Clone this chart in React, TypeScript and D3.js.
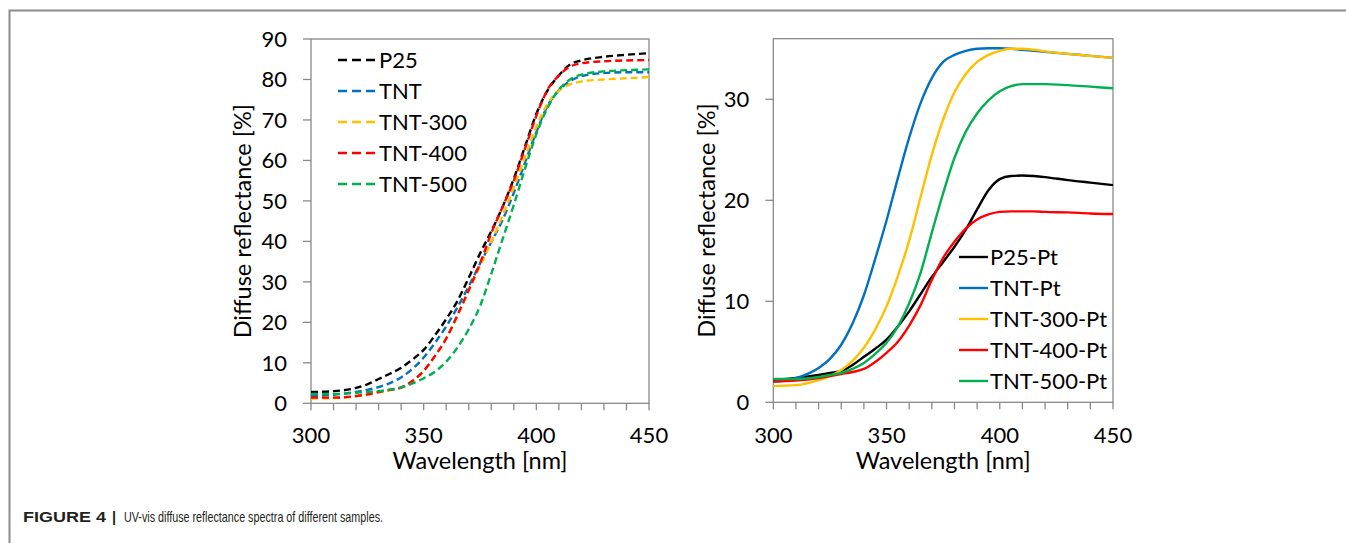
import React from "react";
import * as d3 from "d3";

// ---------- DATA ----------
const wavelengths = [300, 310, 320, 325, 330, 335, 340, 345, 350, 355, 360, 365, 370, 375, 380, 385, 390, 395, 400, 405, 410, 415, 420, 430, 440, 450];

const leftTicksY = [0, 10, 20, 30, 40, 50, 60, 70, 80, 90];
const rightTicksY = [0, 10, 20, 30];
const ticksX = [300, 350, 400, 450];

const p25 = [2.8, 3.0, 3.8, 4.7, 6.0, 7.3, 8.8, 10.8, 13.2, 16.8, 20.8, 25.3, 31.0, 37.0, 42.5, 48.5, 55.5, 63.5, 71.5, 77.3, 81.0, 83.7, 84.7, 85.6, 86.1, 86.5];
const tnt = [1.8, 2.1, 2.8, 3.3, 4.0, 5.0, 6.4, 8.5, 11.3, 14.9, 19.0, 23.7, 28.9, 34.5, 39.8, 45.3, 52.0, 59.5, 67.0, 73.5, 77.3, 79.6, 80.8, 81.6, 81.8, 81.8];
const tnt300 = [1.2, 1.3, 1.7, 2.1, 2.7, 3.2, 3.9, 5.5, 8.0, 11.7, 16.0, 21.6, 27.8, 33.9, 39.8, 46.3, 53.3, 60.8, 68.3, 74.0, 77.2, 78.8, 79.5, 80.0, 80.3, 80.6];
const tnt400 = [1.4, 1.4, 1.8, 2.2, 2.8, 3.3, 3.9, 5.5, 8.0, 11.7, 16.0, 21.8, 28.0, 34.5, 42.0, 48.5, 55.0, 63.0, 71.0, 77.5, 81.0, 83.2, 84.0, 84.5, 84.7, 84.8];
const tnt500 = [2.3, 2.3, 2.6, 2.8, 3.0, 3.4, 3.9, 4.9, 6.2, 7.8, 10.3, 13.8, 18.3, 24.0, 32.0, 40.5, 49.0, 58.0, 66.5, 73.0, 77.5, 80.0, 81.2, 82.0, 82.3, 82.5];

const p25Pt = [2.2, 2.4, 2.7, 2.9, 3.1, 3.7, 4.5, 5.3, 6.2, 7.5, 9.0, 10.7, 12.4, 13.9, 15.4, 17.1, 19.1, 21.0, 22.1, 22.4, 22.45, 22.4, 22.3, 22.0, 21.75, 21.5];
const tntPt = [2.05, 2.4, 3.4, 4.3, 5.7, 7.8, 10.6, 14.2, 18.0, 22.2, 26.2, 29.6, 32.1, 33.7, 34.4, 34.8, 35.0, 35.05, 35.05, 35.0, 34.9, 34.8, 34.7, 34.5, 34.3, 34.1];
const tnt300Pt = [1.6, 1.7, 2.2, 2.6, 3.2, 4.1, 5.4, 7.2, 9.5, 12.5, 16.0, 20.3, 24.5, 28.0, 30.7, 32.5, 33.7, 34.4, 34.8, 35.0, 35.0, 34.9, 34.75, 34.5, 34.3, 34.1];
const tnt400Pt = [2.05, 2.15, 2.4, 2.6, 2.8, 3.0, 3.3, 4.0, 4.9, 6.0, 7.6, 9.6, 12.1, 14.3, 15.9, 17.2, 18.1, 18.6, 18.85, 18.9, 18.9, 18.9, 18.85, 18.8, 18.7, 18.65];
const tnt500Pt = [2.3, 2.3, 2.5, 2.7, 2.9, 3.3, 3.9, 4.8, 5.9, 7.5, 9.8, 12.8, 16.8, 20.7, 24.2, 26.8, 28.6, 29.9, 30.8, 31.3, 31.5, 31.5, 31.5, 31.4, 31.25, 31.1];

const leftNames = ["P25", "TNT", "TNT-300", "TNT-400", "TNT-500"];
const rightNames = ["P25-Pt", "TNT-Pt", "TNT-300-Pt", "TNT-400-Pt", "TNT-500-Pt"];
const colors = ["#000000", "#0070C0", "#FFC000", "#FF0000", "#00B050"];

const leftSeries = [p25, tnt, tnt300, tnt400, tnt500];
const rightSeries = [p25Pt, tntPt, tnt300Pt, tnt400Pt, tnt500Pt];

const FONT = "Lato, 'Open Sans', sans-serif";
const GRID = "#898989";

type PanelProps = {
  left: number; right: number; top: number; bottom: number;
  yMax: number; yTicks: number[];
  series: number[][]; names: string[];
  dashed: boolean;
  legendX: number; legendY: number;
  yLabelX: number;
};

function Panel(p: PanelProps) {
  const x = d3.scaleLinear().domain([300, 450]).range([p.left, p.right]);
  const y = d3.scaleLinear().domain([0, p.yMax]).range([p.bottom, p.top]);
  const line = d3.line<[number, number]>()
    .x(d => x(d[0]))
    .y(d => y(d[1]))
    .curve(d3.curveMonotoneX);
  const minorX = d3.range(300, 451, 10);
  const midY = (p.top + p.bottom) / 2;
  return (
    <g>
      <rect x={p.left} y={y(p.yMax)} width={p.right - p.left} height={p.bottom - y(p.yMax)} fill="none" stroke={GRID} strokeWidth={1.3} />
      {p.yTicks.map(t => (
        <g key={"yt" + t}>
          <line x1={p.left - 8} x2={p.left} y1={y(t)} y2={y(t)} stroke={GRID} strokeWidth={1.3} />
          <text x={p.left - 24} y={y(t)} dy="0.35em" textAnchor="end" fontFamily={FONT} fontSize={22} fill="#000">{t}</text>
        </g>
      ))}
      {minorX.map(t => (
        <line key={"xm" + t} x1={x(t)} x2={x(t)} y1={p.bottom} y2={p.bottom + 7} stroke={GRID} strokeWidth={1.3} />
      ))}
      {ticksX.map(t => (
        <text key={"xt" + t} x={x(t)} y={443} textAnchor="middle" fontFamily={FONT} fontSize={22} fill="#000">{t}</text>
      ))}
      <text x={(p.left + p.right) / 2} y={469} textAnchor="middle" fontFamily={FONT} fontSize={23.5} fill="#000">Wavelength [nm]</text>
      <text transform={`translate(${p.yLabelX},${midY}) rotate(-90)`} textAnchor="middle" dy="0.35em" fontFamily={FONT} fontSize={23.5} fill="#000">Diffuse reflectance [%]</text>
      {p.series.map((s, i) => (
        <path key={"s" + i}
          d={line(wavelengths.map((w, j) => [w, s[j]] as [number, number])) || ""}
          fill="none" stroke={colors[i]} strokeWidth={2.4}
          strokeDasharray={p.dashed ? "7,4" : undefined} />
      ))}
      {p.names.map((n, i) => (
        <g key={"lg" + i}>
          <line x1={p.legendX} x2={p.legendX + (p.dashed ? 37 : 29)} y1={p.legendY + i * 31} y2={p.legendY + i * 31}
            stroke={colors[i]} strokeWidth={2.4} strokeDasharray={p.dashed ? "9,5" : undefined} />
          <text x={p.legendX + (p.dashed ? 41 : 31)} y={p.legendY + i * 31} dy="0.36em" fontFamily={FONT} fontSize={22} fill="#000">{n}</text>
        </g>
      ))}
    </g>
  );
}

export default function App() {
  return (
    <svg width={1346} height={543} style={{ position: "absolute", left: 0, top: 0, background: "#fff" }}>
      <rect x={0} y={0} width={1346} height={543} fill="#fff" />
      <path d="M9.5,543 L9.5,10.5 L1346,10.5" fill="none" stroke="#8c8c8c" strokeWidth={2} />
      <Panel left={311} right={649} top={39} bottom={403.3} yMax={90} yTicks={leftTicksY}
        series={leftSeries} names={leftNames} dashed={true} legendX={338} legendY={60} yLabelX={243} />
      <Panel left={773.3} right={1113} top={38.7} bottom={402.3} yMax={36} yTicks={rightTicksY}
        series={rightSeries} names={rightNames} dashed={false} legendX={959} legendY={257} yLabelX={707} />
      <text x={23} y={522} fontFamily="'Liberation Sans', Arial, sans-serif" fontSize={14.5} fontWeight="bold" fill="#231f20" textLength={83} lengthAdjust="spacingAndGlyphs">FIGURE 4</text>
      <text x={112} y={522} fontFamily="'Liberation Sans', Arial, sans-serif" fontSize={14.5} fontWeight="bold" fill="#231f20">|</text>
      <text x={124} y={522} fontFamily="'Liberation Sans', Arial, sans-serif" fontSize={14.5} fill="#231f20" textLength={259} lengthAdjust="spacingAndGlyphs">UV-vis diffuse reflectance spectra of different samples.</text>
    </svg>
  );
}
